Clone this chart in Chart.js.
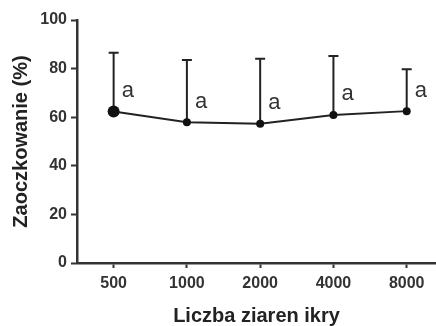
<!DOCTYPE html>
<html>
<head>
<meta charset="utf-8">
<script src="https://cdn.jsdelivr.net/npm/chart.js@4"></script>
<style>
  html, body { margin: 0; padding: 0; background: #fff; overflow: hidden; }
  canvas { display: block; }
</style>
</head>
<body>
<canvas id="grafico" width="436" height="326"></canvas>
<script>
const categories = ['500', '1000', '2000', '4000', '8000'];
const meanValues = [62.3, 57.9, 57.3, 60.9, 62.5];
const errorTops = [86.5, 83.5, 84.1, 85.2, 79.7];
const groupLetters = ['a', 'a', 'a', 'a', 'a'];
const yTicks = [0, 20, 40, 60, 80, 100];

const axisColor = '#333333';

// error bars (only upper) + the letters next to them
const errorBars = {
  id: 'errorBars',
  beforeDatasetsDraw(chart) {
    const ctx = chart.ctx;
    const x = chart.scales.x;
    const y = chart.scales.y;
    ctx.save();
    ctx.strokeStyle = '#222';
    ctx.lineWidth = 2;
    meanValues.forEach((v, i) => {
      const px = x.getPixelForValue(i);
      const y0 = y.getPixelForValue(v);
      const y1 = y.getPixelForValue(errorTops[i]);
      ctx.beginPath();
      ctx.moveTo(px, y0);
      ctx.lineTo(px, y1);
      ctx.moveTo(px - 5, y1);
      ctx.lineTo(px + 5, y1);
      ctx.stroke();
    });
    ctx.restore();
  },
  afterDatasetsDraw(chart) {
    const ctx = chart.ctx;
    const x = chart.scales.x;
    const y = chart.scales.y;
    ctx.save();
    ctx.fillStyle = '#333';
    ctx.font = '22px "Liberation Sans", Arial, sans-serif';
    ctx.textAlign = 'left';
    ctx.textBaseline = 'middle';
    groupLetters.forEach((t, i) => {
      ctx.fillText(t, x.getPixelForValue(i) + 8, y.getPixelForValue(meanValues[i] + 8.5));
    });
    ctx.restore();
  }
};

const ctx = document.getElementById('grafico').getContext('2d');
new Chart(ctx, {
  type: 'line',
  data: {
    datasets: [{
      data: meanValues.map((v, i) => ({ x: i, y: v })),
      borderColor: '#222',
      backgroundColor: '#111',
      borderWidth: 2,
      pointRadius: [6, 4, 4, 4, 4],
      pointBorderWidth: 0,
      tension: 0
    }]
  },
  options: {
    responsive: false,
    animation: false,
    layout: { autoPadding: false, padding: { top: 20, right: 0, left: 0, bottom: 0 } },
    plugins: {
      legend: { display: false },
      tooltip: { enabled: false }
    },
    scales: {
      x: {
        type: 'linear',
        min: -0.5,
        max: 4.4,
        afterBuildTicks(scale) {
          scale.ticks = categories.map((c, i) => ({ value: i }));
        },
        afterFit(scale) {
          scale.height = 63;
        },
        ticks: {
          callback: (v) => categories[v],
          color: axisColor,
          padding: 6,
          maxRotation: 0,
          font: { family: '"Liberation Sans", Arial, sans-serif', size: 16, weight: 'bold' }
        },
        grid: { drawOnChartArea: false, drawTicks: true, tickLength: 5, tickWidth: 2, color: axisColor },
        border: { display: true, width: 2.5, color: axisColor },
        title: {
          display: true,
          text: 'Liczba ziaren ikry',
          color: '#222',
          padding: { top: 0, bottom: 0 },
          font: { family: '"Liberation Sans", Arial, sans-serif', size: 20, weight: 'bold', lineHeight: 1 }
        }
      },
      y: {
        min: 0,
        max: 100,
        afterBuildTicks(scale) {
          scale.ticks = yTicks.map(v => ({ value: v }));
        },
        afterFit(scale) { scale.width = 77; },
        ticks: {
          color: axisColor,
          padding: 4,
          font: { family: '"Liberation Sans", Arial, sans-serif', size: 16, weight: 'bold' }
        },
        grid: { drawOnChartArea: false, drawTicks: true, tickLength: 6, tickWidth: 2, color: axisColor },
        border: { display: true, width: 2.5, color: axisColor },
        title: {
          display: true,
          text: 'Zaoczkowanie (%)',
          color: '#222',
          padding: { top: 9, bottom: 0 },
          font: { family: '"Liberation Sans", Arial, sans-serif', size: 20, weight: 'bold', lineHeight: 1.2 }
        }
      }
    }
  },
  plugins: [errorBars]
});
</script>
</body>
</html>
